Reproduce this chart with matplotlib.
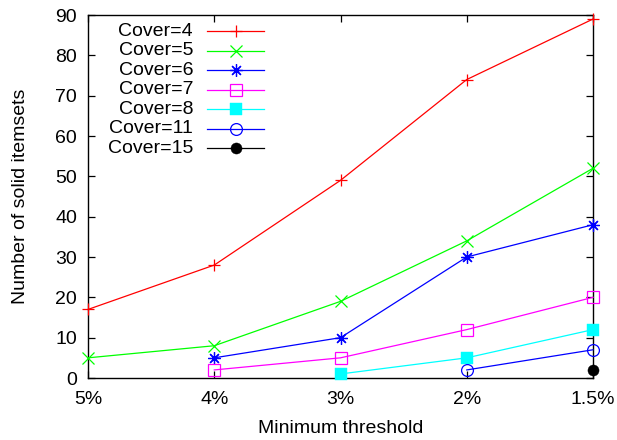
import numpy as np
import matplotlib
matplotlib.use("Agg")
import matplotlib.pyplot as plt

plt.rcParams['font.family'] = ['Liberation Sans', 'DejaVu Sans']

thresholds = ["5%", "4%", "3%", "2%", "1.5%"]
nan = np.nan
cover4 = [17, 28, 49, 74, 89]
cover5 = [5, 8, 19, 34, 52]
cover6 = [nan, 5, 10, 30, 38]
cover7 = [nan, 2, 5, 12, 20]
cover8 = [nan, nan, 1, 5, 12]
cover11 = [nan, nan, nan, 2, 7]
cover15 = [nan, nan, nan, nan, 2]

series = [
    ("Cover=4", cover4, "#ff0000", dict(marker='+', ms=9, mew=0.9, mfc='none')),
    ("Cover=5", cover5, "#00ff00", dict(marker='x', ms=8, mew=0.9, mfc='none')),
    ("Cover=6", cover6, "#0000ff", dict(marker=(8, 2, 0), ms=9, mew=0.9, mfc='none')),
    ("Cover=7", cover7, "#ff00ff", dict(marker='s', ms=8.5, mew=0.9, mfc='none')),
    ("Cover=8", cover8, "#00ffff", dict(marker='s', ms=8.5, mew=0.3)),
    ("Cover=11", cover11, "#0000ff", dict(marker='o', ms=8.5, mew=0.9, mfc='none')),
    ("Cover=15", cover15, "#000000", dict(marker='o', ms=8, mew=0.3)),
]

W, H = 617, 440
L, R, T, B = 88, 593, 15, 378
fig = plt.figure(figsize=(W/100, H/100), dpi=100)
ax = fig.add_axes([L/W, 1-B/H, (R-L)/W, (B-T)/H])

x = np.arange(len(thresholds))
for label, vals, color, mk in series:
    ax.plot(x, vals, color=color, lw=0.9, label=label, clip_on=False, zorder=3, **mk)

ax.set_xlim(0, len(thresholds)-1)
ax.set_ylim(0, 90)
ax.set_xticks(x)
ax.set_xticklabels(thresholds)
ax.set_yticks(np.arange(0, 91, 10))
ax.tick_params(direction='in', top=True, right=True, length=5, width=0.9, labelsize=14)
ax.tick_params(axis='x', pad=9)
ax.tick_params(axis='y', pad=8)
for s in ax.spines.values():
    s.set_linewidth(1.0)
ax.set_xlabel("Minimum threshold", fontsize=14)
ax.set_ylabel("Number of solid itemsets", fontsize=14)
ax.xaxis.set_label_coords(0.5, (B-428)/(B-T))
ax.xaxis.label.set_va('center')
ax.yaxis.set_label_coords((21-L)/(R-L), 0.5)
ax.yaxis.label.set_va('center')

# legend (gnuplot style: right-aligned text, sample line to the right)
def ax_x(px):
    return (px-L)/(R-L)

def ax_y(py):
    return (B-py)/(B-T)

row0, step = 31, 19.5
for i, (label, vals, color, mk) in enumerate(series):
    yy = ax_y(row0 + step*i)
    ax.text(ax_x(193), yy, label, ha='right', va='center', fontsize=14,
            transform=ax.transAxes)
    ax.plot([ax_x(207), ax_x(264)], [yy, yy], color=color, lw=0.9,
            transform=ax.transAxes, clip_on=False)
    ax.plot([ax_x(236)], [yy], color=color, lw=0, transform=ax.transAxes,
            clip_on=False, **mk)

fig.savefig("out.png", dpi=100)
